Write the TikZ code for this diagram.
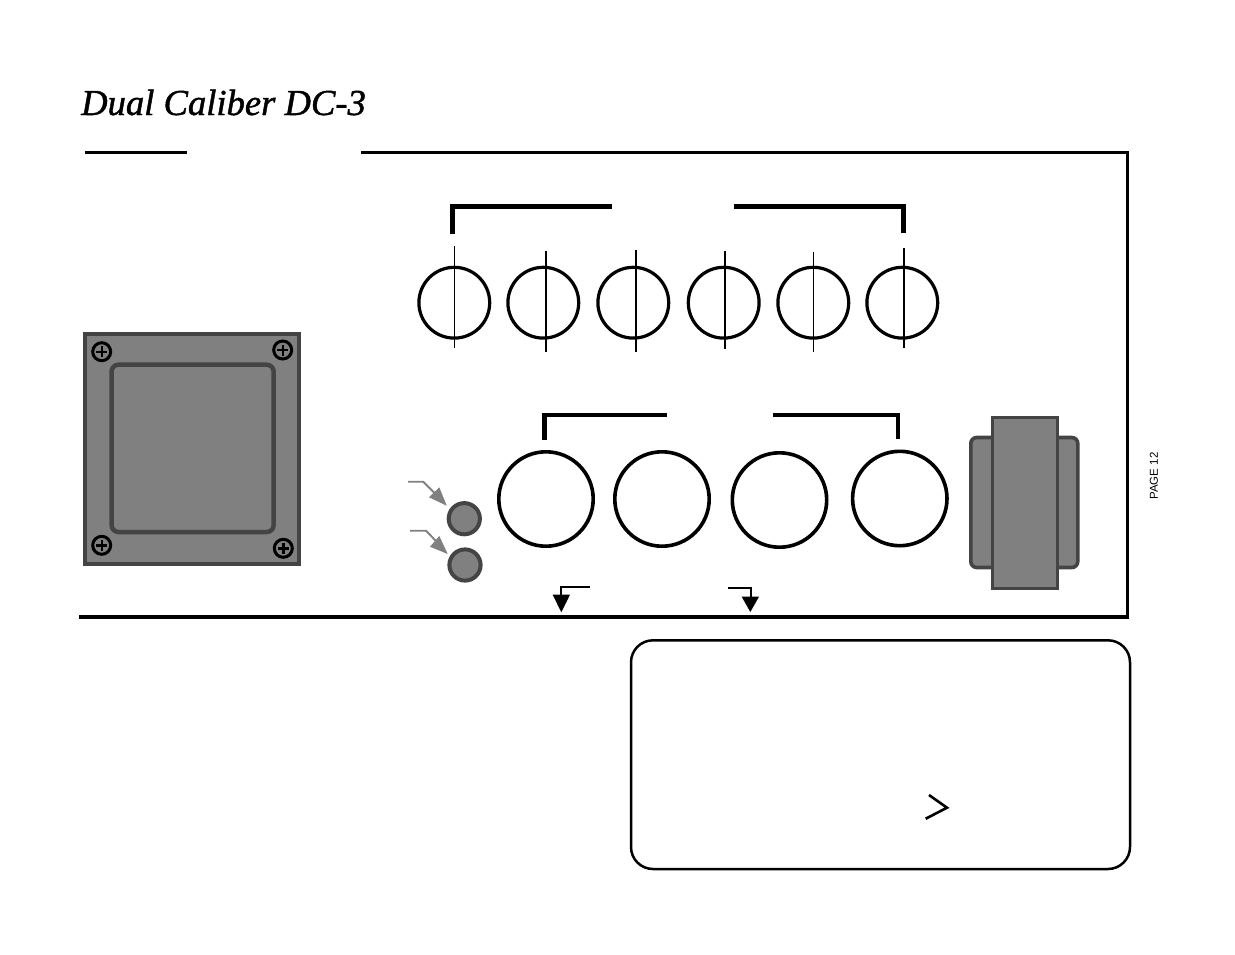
\documentclass[tikz,border=0pt]{standalone}
\usepackage{fontspec}
\setmainfont{Liberation Serif}
\newfontfamily\pagefont{Liberation Sans}
\newfontfamily\titlefont[ItalicFeatures={FakeBold=1.2}]{Liberation Serif}
\definecolor{panelgray}{HTML}{808080}
\definecolor{edgegray}{HTML}{444444}
\tikzset{
  frameline/.style={draw=black,line width=2.9pt},
  bracketwide/.style={draw=black,line width=5.2pt,miter limit=10},
  bracketlow/.style={draw=black,line width=4.2pt},
  socket/.style={draw=black,line width=3.2pt,fill=white},
  bigsocket/.style={draw=black,line width=3.6pt,fill=white},
  thinshaft/.style={draw=black,line width=1.4pt},
  thickshaft/.style={draw=black,line width=2.4pt},
  metal/.style={draw=edgegray,fill=panelgray,line width=3.6pt},
  screwhead/.style={draw=black,line width=3pt},
  grayleader/.style={draw=panelgray,line width=1.9pt},
  grayhead/.style={fill=panelgray,draw=none},
  blackleader/.style={draw=black,line width=2.4pt},
  blackhead/.style={fill=black,draw=none}
}
\newcommand{\screw}[2]{%
  \draw[screwhead] (#1,#2) circle (9);
  \draw[screwhead,line width=2.4pt] (#1-5.5,#2) -- (#1+5.5,#2) (#1,#2-5.5) -- (#1,#2+5.5);
}
\begin{document}
\begin{tikzpicture}[x=1pt,y=-1pt]
\useasboundingbox[fill=white] (0,0) rectangle (1235,954);
% title
\node[anchor=base west,inner sep=0pt,font=\titlefont\itshape\fontsize{36.6}{40}\selectfont] (title) at (81,115) {Dual Caliber DC-3};
\node[anchor=center,inner sep=0pt,rotate=90,font=\pagefont\fontsize{11.5}{13}\selectfont] (pagenum) at (1154,476) {PAGE 12};
% frame
\draw[frameline] (85,152.5) -- (187,152.5);
\draw[frameline] (361,152.5) -- (1127.7,152.5) -- (1127.7,617);
\draw[frameline,line width=3.4pt] (1129.1,617) -- (79,617);
% left transformer
\draw[metal,line width=4pt] (84.8,333.8) rectangle (298.9,564);
\draw[metal,line width=4.5pt,rounded corners=7pt] (111.5,364.7) rectangle (273.7,532);
\screw{101.7}{351.7}
\screw{282.7}{350}
\screw{101.7}{545.3}
\screw{283.3}{548.3}
% top sockets
\foreach \n/\cx in {a/454.3,b/543.3,c/633.3,d/723.7,e/813.3,f/902.3}
  \draw[socket] (\cx,302.7) circle (35.4);
\draw[thinshaft]  (454.3,246) -- (454.3,347.7);
\draw[thickshaft] (545.7,251) -- (545.7,351.7);
\draw[thickshaft] (636,250) -- (636,351.7);
\draw[thickshaft] (724.7,251) -- (724.7,349);
\draw[thinshaft]  (813.3,252) -- (813.3,351.7);
\draw[thickshaft] (904,248) -- (904,348);
% top brackets
\draw[bracketwide] (452.5,234) -- (452.5,206.5) -- (612,206.5);
\draw[bracketwide] (734,206.5) -- (903.5,206.5) -- (903.5,232.7);
% lower brackets
\draw[bracketlow] (544.5,440) -- (544.5,414.7) -- (667,414.7);
\draw[bracketlow] (772.7,414.7) -- (898.3,414.7) -- (898.3,439);
% big sockets
\draw[bigsocket] (546,499) circle (47.2);
\draw[bigsocket] (662,499) circle (47.2);
\draw[bigsocket] (779.5,500) circle (47.2);
\draw[bigsocket] (899.8,498.5) circle (47.2);
% small gray knobs
\draw[metal,line width=4pt] (464.3,518.7) circle (15.6);
\draw[metal,line width=4pt] (465,565) circle (15.6);
% gray arrows
\draw[grayleader] (408,481.7) -- (423.3,481.7) -- (435,493.5);
\fill[grayhead] (446.7,505.7) -- (439.3,487.3) -- (429,497.3) -- cycle;
\draw[grayleader] (410,530.7) -- (426,530.7) -- (436.5,541.5);
\fill[grayhead] (447.7,554) -- (439.3,536) -- (430,546.7) -- cycle;
% black arrows
\draw[blackleader] (590,586.7) -- (561,586.7) -- (561,596);
\fill[blackhead] (561.3,612.3) -- (552.7,594.7) -- (570,594.7) -- cycle;
\draw[blackleader] (728.3,587.7) -- (750.7,587.7) -- (750.7,598);
\fill[blackhead] (750.3,612) -- (741.7,596.7) -- (759,596.7) -- cycle;
% right transformer
\draw[metal,rounded corners=6pt] (970.8,437.5) rectangle (1077.8,567.5);
\draw[metal] (992.5,417.5) rectangle (1057.5,588.5);
% note box
\draw[draw=black,line width=2.5pt,rounded corners=22pt] (631,640.3) rectangle (1130,869);
\draw[draw=black,line width=2.6pt] (929,795) -- (947,807.7) -- (925.7,818.7);
\end{tikzpicture}
\end{document}
